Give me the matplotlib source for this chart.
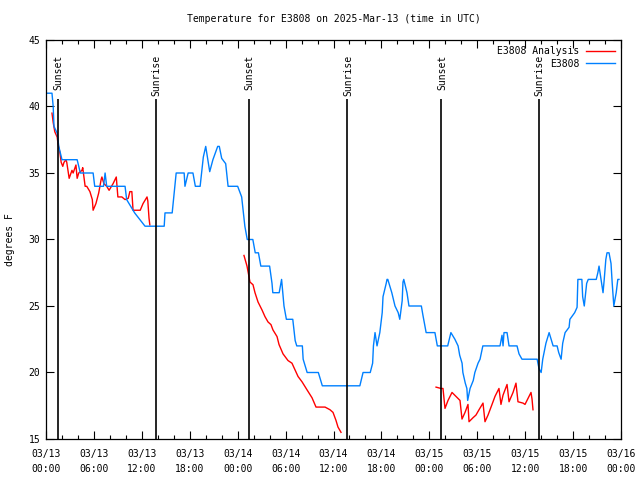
import numpy as np
import matplotlib
matplotlib.use("Agg")
import matplotlib.pyplot as plt
from matplotlib.ticker import MultipleLocator

# hours since 2025-03-13 00:00 UTC
obs_hours = [0, 0.75, 0.9, 1.0, 1.4, 1.6, 1.8, 2.0, 3.9, 4.3, 5.9, 6.1, 7.2, 7.4, 7.6, 9.9,
             10.1, 11.1, 12.4, 14.8, 14.9, 15.8, 16.3, 17.3, 17.4, 17.8, 18.4, 18.7, 19.3,
             19.7, 20.0, 20.5, 20.9, 21.5, 21.7, 22.0, 22.5, 22.8, 24.0, 24.5, 24.9, 25.2,
             25.9, 26.2, 26.6, 26.9, 28.0, 28.3, 28.4, 29.2, 29.5, 29.8, 30.1, 30.9, 31.2,
             31.4, 32.1, 32.2, 32.7, 34.1, 34.6, 39.3, 39.7, 40.6, 40.9, 41.0, 41.2, 41.45,
             41.8, 42.1, 42.2, 42.6, 42.7, 42.8, 43.3, 43.7, 44.1, 44.3, 44.6, 44.7, 44.8,
             45.2, 45.45, 47.0, 47.2, 47.6, 48.7, 49.0, 50.3, 50.7, 51.2, 51.6, 51.8, 52.1,
             52.2, 52.5, 52.7, 52.8, 53.1, 53.5, 53.7, 54.1, 54.35, 54.7, 56.85, 57.1, 57.23,
             57.35, 57.73, 57.98, 58.98, 59.23, 59.6, 61.5, 61.6, 61.73, 62.0, 62.2, 62.6,
             63.0, 63.5, 64.0, 64.2, 64.5, 64.7, 65.0, 65.5, 65.6, 66.2, 66.5, 66.6, 67.1,
             67.2, 67.4, 67.7, 67.9, 68.9, 69.1, 69.25, 69.5, 69.75, 69.9, 70.1, 70.25, 70.5,
             70.75, 70.9, 71.1, 71.4, 71.6, 71.75]
obs_temps = [41, 41, 40, 38.5, 38, 37, 36.5, 36, 36, 35, 35, 34, 34, 35, 34, 34,
             33, 32, 31, 31, 32, 32, 35, 35, 34, 35, 35, 34, 34,
             36.2, 37, 35.1, 36, 37, 37, 36.1, 35.7, 34, 34, 33.2, 31, 30,
             30, 29, 29, 28, 28, 26.7, 26, 26, 27, 25, 24, 24, 22.4,
             22, 22, 21, 20, 20, 19, 19, 20, 20, 20.7, 22, 23, 22,
             23, 24.5, 25.7, 26.7, 27, 27, 26, 25, 24.5, 24, 25.4, 26.8, 27,
             26, 25, 25, 24.3, 23, 23, 22, 22, 23, 22.5, 22, 21.3, 20.7,
             20, 19.2, 18.8, 17.9, 18.8, 19.4, 20, 20.7, 21, 22, 22, 22.8, 22,
             23, 23, 22, 22, 21.4, 21, 21, 20.7, 20.3, 20, 21, 22.2,
             23, 22, 22, 21.5, 21, 22.2, 23, 23.4, 24, 24.5, 24.9, 27, 27,
             25.7, 25, 26.7, 27, 27, 27.5, 28, 27, 26, 27, 28.5, 29, 29,
             28.2, 26.7, 25, 26, 27, 27]

ana_hours = [0.75, 0.9, 1.1, 1.4, 1.5, 1.75, 1.9, 2.1, 2.25, 2.5, 2.6, 2.9, 3.25, 3.4, 3.75,
             3.9, 4.1, 4.5, 4.6, 4.9, 5.1, 5.5, 5.8, 5.9, 6.25, 6.6, 6.9, 7.0, 7.25, 7.6,
             7.9, 8.4, 8.8, 9.0, 9.5, 9.9, 10.3, 10.5, 10.75, 10.9, 11.8, 12.15, 12.65,
             12.75, 12.9, 13.0, 13.1,
             24.79, 25.17, 25.42, 25.54, 25.92, 26.17, 26.55, 27.05, 27.42, 27.8, 28.17,
             28.42, 28.93, 29.18, 29.68, 29.93, 30.3, 30.8, 31.18, 31.56, 32.06, 32.68,
             33.31, 33.81, 34.94, 35.56, 35.94, 36.31, 36.56, 36.94, 37.0,
             48.84, 49.46, 49.71, 49.96, 50.34, 50.84, 51.34, 51.84, 52.09, 52.47, 52.84,
             52.97, 53.47, 53.84, 54.22, 54.72, 54.97, 55.35, 55.85, 56.22, 56.72, 56.97,
             57.23, 57.73, 57.98, 58.48, 58.85, 59.1, 59.73, 59.98, 60.73, 60.86, 60.98]
ana_temps = [39.5, 38.8, 38.1, 37.7, 37.2, 36.5, 35.8, 35.5, 35.8, 36, 35.8, 34.6, 35.2, 35.0, 35.6,
             34.6, 35.0, 35.2, 35.4, 34.0, 34.0, 33.6, 33.0, 32.2, 32.7, 33.5, 34.5, 34.7, 34.2, 34.0,
             33.7, 34.2, 34.7, 33.2, 33.2, 33.0, 33.1, 33.6, 33.6, 32.2, 32.2, 32.7, 33.2,
             32.9, 31.6, 31.1, np.nan,
             28.8, 28.0, 27.2, 26.8, 26.6, 26.0, 25.3, 24.7, 24.2, 23.8, 23.6,
             23.2, 22.7, 22.1, 21.4, 21.2, 20.9, 20.7, 20.2, 19.7, 19.3, 18.7,
             18.1, 17.4, 17.4, 17.2, 17.0, 16.4, 15.9, 15.5, np.nan,
             18.9, 18.8, 18.8, 17.3, 17.9, 18.5, 18.2, 17.9, 16.5, 17.0, 17.6,
             16.3, 16.6, 16.8, 17.2, 17.7, 16.3, 16.8, 17.6, 18.2, 18.8, 17.6,
             18.3, 19.1, 17.8, 18.5, 19.2, 17.8, 17.7, 17.6, 18.5, 18.0, 17.2]

sun_hours = [1.5, 13.77, 25.4, 37.7, 49.5, 61.7]
sun_labels = ["Sunset", "Sunrise", "Sunset", "Sunrise", "Sunset", "Sunrise"]

tick_labels = ["03/13\n00:00", "03/13\n06:00", "03/13\n12:00", "03/13\n18:00",
               "03/14\n00:00", "03/14\n06:00", "03/14\n12:00", "03/14\n18:00",
               "03/15\n00:00", "03/15\n06:00", "03/15\n12:00", "03/15\n18:00",
               "03/16\n00:00"]

plt.rcParams["font.family"] = ["DejaVu Sans Mono"]
plt.rcParams["font.size"] = 7

fig = plt.figure(figsize=(6.4, 4.8), dpi=100)
ax = fig.add_axes([46 / 640, 41 / 480, 575 / 640, 399 / 480])

ax.plot(ana_hours, ana_temps, color="#ff0000", lw=1.0, label="E3808 Analysis")
ax.plot(obs_hours, obs_temps, color="#0080ff", lw=1.0, label="E3808")

for h, lab in zip(sun_hours, sun_labels):
    ax.vlines(h, 15, 40.6, color="black", lw=1.2)
    ax.text(h + 0.1, 43.9, lab, rotation=90, ha="center", va="top", fontsize=7)

ax.set_xlim(0, 72)
ax.set_ylim(15, 45)
ax.set_xticks(np.arange(0, 73, 6))
ax.set_xticklabels(tick_labels, linespacing=1.65)
ax.xaxis.set_minor_locator(MultipleLocator(2))
ax.set_yticks(np.arange(15, 46, 5))
ax.tick_params(which="both", direction="in", top=True, right=True, width=0.8, pad=4)
ax.tick_params(axis="x", which="major", pad=7)
ax.tick_params(which="major", length=6)
ax.tick_params(which="minor", length=3)
for s in ax.spines.values():
    s.set_linewidth(0.9)

ax.set_ylabel("degrees F", labelpad=10)
ax.set_title("Temperature for E3808 on 2025-Mar-13 (time in UTC)", fontsize=7, pad=13)

ax.legend(loc="upper right", frameon=False, markerfirst=False, handlelength=3.0,
          borderaxespad=0.25, labelspacing=0.25, handletextpad=0.6, fontsize=7)

fig.savefig("out.png", dpi=100)
